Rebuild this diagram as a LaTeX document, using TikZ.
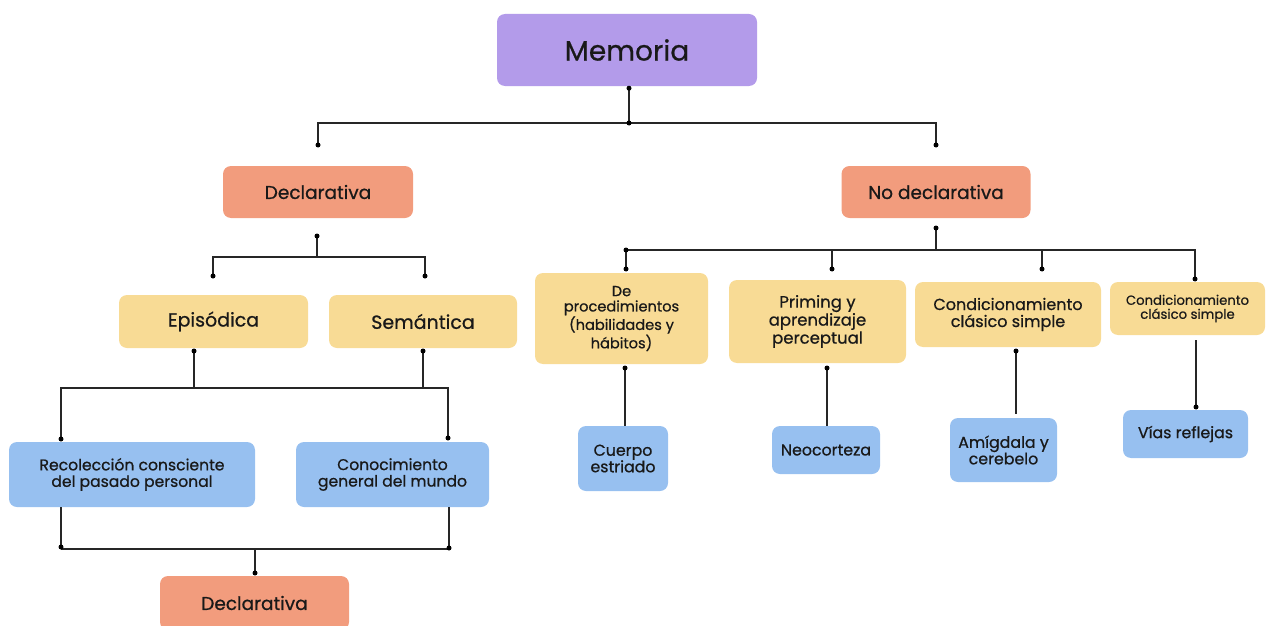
\documentclass[tikz,border=0pt]{standalone}
\usepackage{fontspec}
\setmainfont{Poppins}[FakeBold=0.7]
\usetikzlibrary{calc}
\definecolor{cpur}{HTML}{B39BEA}
\definecolor{csal}{HTML}{F29C7D}
\definecolor{cyel}{HTML}{F8DB95}
\definecolor{cblu}{HTML}{97C0F0}
\begin{document}
\begin{tikzpicture}[x=1pt,y=-1pt,
  box/.style={rounded corners=8pt, inner sep=0pt, align=center, text=black!90},
  pur/.style={box, fill=cpur},
  sal/.style={box, fill=csal},
  yel/.style={box, fill=cyel},
  blu/.style={box, fill=cblu},
  ln/.style={line width=1.3pt, draw=black!85},
  dot/.style={circle, fill=black, inner sep=0pt, minimum size=5pt}]
\useasboundingbox (0,0) rectangle (1269,626);
% nodes
\node[pur, minimum width=260pt, minimum height=72pt, font=\fontsize{28}{31}\selectfont] (mem) at (627,50) {Memoria};
\node[sal, minimum width=190pt, minimum height=52pt, font=\fontsize{18.5}{21}\selectfont] (decl) at (318,192) {Declarativa};
\node[sal, minimum width=189pt, minimum height=52pt, font=\fontsize{18.5}{21}\selectfont] (nodecl) at (936,192) {No declarativa};
\node[yel, minimum width=189pt, minimum height=53pt, font=\fontsize{19}{21}\selectfont] (epi) at (213.5,321.5) {Episódica};
\node[yel, minimum width=188pt, minimum height=53pt, font=\fontsize{19}{21}\selectfont] (sem) at (423,321.5) {Semántica};
\node[blu, minimum width=246pt, minimum height=65pt, font=\fontsize{15.6}{16.5}\selectfont] (rec) at (132,474.5) {Recolección consciente\\del pasado personal};
\node[blu, minimum width=193pt, minimum height=65pt, font=\fontsize{15.6}{16.5}\selectfont] (con) at (392.5,474.5) {Conocimiento\\general del mundo};
\node[sal, minimum width=189pt, minimum height=54pt, font=\fontsize{18.5}{21}\selectfont] (decl2) at (254.5,603) {Declarativa};
\node[yel, minimum width=173pt, minimum height=91pt, font=\fontsize{14.6}{15.3}\selectfont] (proc) at (621.5,318.5) {De\\procedimientos\\(habilidades y\\hábitos)};
\node[yel, minimum width=177pt, minimum height=83pt, font=\fontsize{16.5}{18}\selectfont] (prim) at (817.5,321.5) {Priming y\\aprendizaje\\perceptual};
\node[yel, minimum width=186pt, minimum height=65pt, font=\fontsize{16}{17}\selectfont] (cond) at (1008,314.5) {Condicionamiento\\clásico simple};
\node[yel, minimum width=155pt, minimum height=53pt, font=\fontsize{13.2}{14}\selectfont] (cond2) at (1187.5,308.5) {Condicionamiento\\clásico simple};
\node[blu, minimum width=90pt, minimum height=65pt, font=\fontsize{15.8}{16.5}\selectfont] (cue) at (623,458.5) {Cuerpo\\estriado};
\node[blu, minimum width=108pt, minimum height=48pt, font=\fontsize{15.8}{16.5}\selectfont] (neo) at (826,450) {Neocorteza};
\node[blu, minimum width=107pt, minimum height=64pt, font=\fontsize{15.8}{16.5}\selectfont] (ami) at (1003.5,450) {Amígdala y\\cerebelo};
\node[blu, minimum width=125pt, minimum height=48pt, font=\fontsize{15.8}{16.5}\selectfont] (vias) at (1185.5,434) {Vías reflejas};
% memoria connectors
\coordinate (m0) at ($(mem.south)+(2,2)$);
\coordinate (m1) at (629,123);
\coordinate (mL) at (318,145);
\coordinate (mR) at (936,145);
\draw[ln] (m0) -- (m1);
\draw[ln] (mL) |- (m1) -| (mR);
\foreach \c in {m0,m1,mL,mR} \node[dot] at (\c) {};
% declarativa
\coordinate (d0) at (317,236);
\coordinate (d1) at (317,257);
\coordinate (dL) at (213,276);
\coordinate (dR) at (425,276);
\draw[ln] (d0) -- (d1);
\draw[ln] (dL) |- (d1) -| (dR);
\foreach \c in {d0,dL,dR} \node[dot] at (\c) {};
% episodica / semantica
\coordinate (e0) at (194,351);
\coordinate (eJ) at (194,388);
\coordinate (s0) at (423,351);
\coordinate (sJ) at (423,388);
\coordinate (rL) at (61,439);
\coordinate (rR) at (448,438);
\draw[ln] (e0) -- (eJ);
\draw[ln] (s0) -- (sJ);
\draw[ln] (rL) |- (sJ);
\draw[ln] (rR) |- (sJ);
\foreach \c in {e0,s0,rL,rR} \node[dot] at (\c) {};
% bottom
\coordinate (b0L) at (rec.south -| rL);
\coordinate (b1L) at (61,547);
\coordinate (b0R) at (con.south -| 449,0);
\coordinate (b1R) at (449,548);
\coordinate (bm) at (255,549);
\coordinate (bd) at (255,573);
\draw[ln] (b0L) -- (b1L);
\draw[ln] (b0R) -- (b1R);
\draw[ln] (61,549) coordinate (bl) -- (449,549) coordinate (br);
\draw[ln] (bm) -- (bd);
\foreach \c in {b1L,b1R,bd} \node[dot] at (\c) {};
% no declarativa
\coordinate (n0) at (936,228);
\coordinate (n1) at (936,250);
\coordinate (p0) at (626,250);
\coordinate (p1) at (626,269);
\coordinate (q1) at (832,269);
\coordinate (c1) at (1042,269);
\coordinate (k1) at (1195,279);
\draw[ln] (n0) -- (n1);
\draw[ln] (p1) |- (n1) -| (k1);
\draw[ln] (q1) -- (q1 |- n1);
\draw[ln] (c1) -- (c1 |- n1);
\foreach \c in {n0,p0,p1,q1,c1,k1} \node[dot] at (\c) {};
% lower right
\coordinate (pa) at (625,368);
\coordinate (qa) at (827,368);
\coordinate (ca) at (1016,351);
\coordinate (cb) at (1016,414);
\coordinate (ka) at (1196,340);
\coordinate (kb) at (1196,407);
\draw[ln] (pa) -- (cue.north -| pa);
\draw[ln] (qa) -- (neo.north -| qa);
\draw[ln] (ca) -- (cb);
\draw[ln] (ka) -- (kb);
\foreach \c in {pa,qa,ca,kb} \node[dot] at (\c) {};
\end{tikzpicture}
\end{document}
